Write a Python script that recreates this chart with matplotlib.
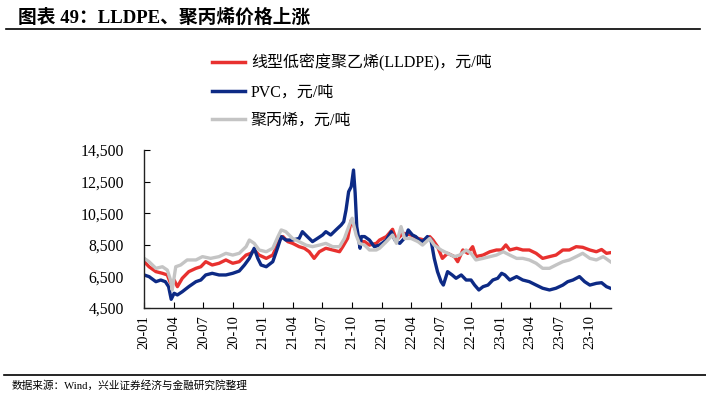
import pandas as pd
import matplotlib
matplotlib.use('Agg')
import matplotlib.pyplot as plt
import matplotlib.dates as mdates
from matplotlib.lines import Line2D
from matplotlib.ticker import FuncFormatter

plt.rcParams['font.family'] = ['Liberation Serif', 'Noto Sans CJK SC']

# LLDPE, yuan/ton
lldpe_dates = ['2020-01-01', '2020-01-16', '2020-02-06', '2020-02-26', '2020-03-12', '2020-03-22',
               '2020-04-02', '2020-04-12', '2020-04-27', '2020-05-17', '2020-06-08', '2020-06-23',
               '2020-07-08', '2020-07-28', '2020-08-18', '2020-09-08', '2020-09-29', '2020-10-19',
               '2020-11-09', '2020-11-24', '2020-12-04', '2020-12-19', '2021-01-10', '2021-01-30',
               '2021-02-20', '2021-03-02', '2021-03-17', '2021-04-01', '2021-04-21', '2021-05-07',
               '2021-05-22', '2021-06-06', '2021-06-22', '2021-07-12', '2021-08-02', '2021-08-23',
               '2021-09-02', '2021-09-17', '2021-09-28', '2021-10-03', '2021-10-13', '2021-10-23',
               '2021-11-08', '2021-11-23', '2021-12-14', '2021-12-24', '2022-01-14', '2022-02-02',
               '2022-02-14', '2022-03-06', '2022-03-31', '2022-04-21', '2022-05-11', '2022-05-27',
               '2022-06-06', '2022-06-20', '2022-07-05', '2022-07-21', '2022-08-11', '2022-08-21',
               '2022-09-06', '2022-09-21', '2022-10-06', '2022-10-16', '2022-11-07', '2022-11-28',
               '2022-12-18', '2023-01-03', '2023-01-16', '2023-01-28', '2023-02-18', '2023-03-09',
               '2023-03-29', '2023-04-19', '2023-05-09', '2023-05-30', '2023-06-19', '2023-07-10',
               '2023-07-30', '2023-08-20', '2023-09-09', '2023-10-01', '2023-10-21', '2023-11-06',
               '2023-11-21', '2023-12-03']
lldpe = [7430, 7110, 6800, 6695, 6590, 6060,
         6270, 5850, 6380, 6800, 7010, 7110,
         7430, 7220, 7330, 7540, 7330, 7430,
         7850, 7960, 8170, 7850, 7640, 7850,
         8800, 9020, 8700, 8590, 8380, 8280,
         8060, 7640, 8060, 8280, 8170, 8060,
         8380, 8910, 10050, 9860, 9330, 8700,
         8700, 8480, 8590, 8800, 9020, 9480,
         8800, 9230, 9120, 8900, 8800, 9020,
         8800, 8380, 7640, 7960, 7750, 7430,
         8170, 7960, 8380, 7750, 7850, 8060,
         8170, 8170, 8490, 8170, 8280, 8170,
         8170, 7960, 7640, 7750, 7850, 8170,
         8170, 8380, 8340, 8170, 8060, 8200,
         7960, 8000]

# PVC, yuan/ton
pvc_dates = ['2020-01-01', '2020-01-16', '2020-02-06', '2020-02-21', '2020-03-06', '2020-03-16',
             '2020-03-24', '2020-04-02', '2020-04-12', '2020-04-27', '2020-05-17', '2020-06-08',
             '2020-06-23', '2020-07-08', '2020-07-28', '2020-08-18', '2020-09-08', '2020-09-29',
             '2020-10-19', '2020-11-04', '2020-11-19', '2020-12-04', '2020-12-15', '2020-12-25',
             '2021-01-10', '2021-01-30', '2021-02-15', '2021-02-25', '2021-03-11', '2021-04-01',
             '2021-04-21', '2021-05-01', '2021-05-16', '2021-06-01', '2021-06-16', '2021-07-02',
             '2021-07-12', '2021-07-27', '2021-08-12', '2021-08-28', '2021-09-05', '2021-09-12',
             '2021-09-20', '2021-09-28', '2021-10-05', '2021-10-10', '2021-10-15', '2021-10-20',
             '2021-10-25', '2021-10-29', '2021-11-08', '2021-11-23', '2021-12-08', '2021-12-24',
             '2022-01-14', '2022-01-29', '2022-02-09', '2022-02-24', '2022-03-15', '2022-03-22',
             '2022-04-04', '2022-04-14', '2022-04-25', '2022-05-05', '2022-05-20', '2022-05-31',
             '2022-06-10', '2022-06-20', '2022-07-01', '2022-07-08', '2022-07-21', '2022-08-04',
             '2022-08-16', '2022-09-01', '2022-09-16', '2022-10-01', '2022-10-12', '2022-10-25',
             '2022-11-07', '2022-11-22', '2022-12-07', '2022-12-22', '2023-01-03', '2023-01-13',
             '2023-01-28', '2023-02-18', '2023-03-09', '2023-03-29', '2023-04-19', '2023-05-09',
             '2023-05-30', '2023-06-19', '2023-07-10', '2023-07-25', '2023-08-10', '2023-08-30',
             '2023-09-15', '2023-10-01', '2023-10-21', '2023-11-06', '2023-11-21', '2023-12-03']
pvc = [6590, 6485, 6165, 6270, 6165, 5850,
       5050, 5430, 5325, 5530, 5850, 6165,
       6270, 6590, 6695, 6590, 6590, 6695,
       6840, 7220, 7640, 8280, 7640, 7220,
       7110, 7430, 8380, 9020, 8800, 8800,
       8900, 9330, 9020, 8700, 8900, 9120,
       9330, 9120, 9440, 9750, 9960, 10700,
       11860, 12180, 13230, 11780, 9650, 9020,
       8280, 9020, 9020, 8800, 8380, 8480,
       8800, 9330, 8800, 8590, 9020, 9440,
       9120, 9020, 8800, 8700, 9020, 8800,
       7640, 6800, 6165, 5950, 6800, 6590,
       6380, 6590, 6270, 6270, 5950, 5640,
       5850, 5950, 6270, 6380, 6695, 6590,
       6270, 6485, 6270, 6165, 5950, 5750,
       5640, 5750, 5950, 6165, 6270, 6485,
       6165, 5950, 6060, 6100, 5850, 5750]

# polypropylene, yuan/ton
pp_dates = ['2020-01-01', '2020-01-16', '2020-02-06', '2020-02-26', '2020-03-12', '2020-03-22',
            '2020-03-27', '2020-04-07', '2020-04-22', '2020-05-12', '2020-06-08', '2020-06-28',
            '2020-07-23', '2020-08-18', '2020-09-08', '2020-09-29', '2020-10-19', '2020-11-09',
            '2020-11-19', '2020-12-04', '2020-12-19', '2021-01-10', '2021-01-30', '2021-02-15',
            '2021-02-25', '2021-03-11', '2021-04-01', '2021-04-21', '2021-05-12', '2021-06-01',
            '2021-06-22', '2021-07-12', '2021-08-02', '2021-08-23', '2021-09-07', '2021-09-22',
            '2021-10-01', '2021-10-13', '2021-10-23', '2021-11-08', '2021-11-23', '2021-12-14',
            '2021-12-24', '2022-01-14', '2022-02-02', '2022-02-14', '2022-02-28', '2022-03-11',
            '2022-03-31', '2022-04-21', '2022-05-05', '2022-05-27', '2022-06-10', '2022-07-01',
            '2022-07-21', '2022-08-11', '2022-08-27', '2022-09-16', '2022-10-01', '2022-10-16',
            '2022-11-07', '2022-11-28', '2022-12-18', '2023-01-08', '2023-01-28', '2023-02-18',
            '2023-03-09', '2023-03-29', '2023-04-19', '2023-05-09', '2023-05-30', '2023-06-19',
            '2023-07-10', '2023-07-30', '2023-08-20', '2023-09-09', '2023-10-01', '2023-10-21',
            '2023-11-11', '2023-12-03']
pp = [7640, 7430, 7010, 7110, 6900, 6270,
      5640, 7110, 7220, 7540, 7540, 7750,
      7640, 7750, 7960, 7850, 7960, 8380,
      8800, 8590, 8170, 8060, 8280, 9020,
      9440, 9330, 8900, 8700, 8480, 8380,
      8480, 8590, 8380, 8380, 8900, 9750,
      10180, 9120, 8590, 8480, 8170, 8170,
      8280, 8700, 9120, 8590, 9650, 8900,
      8900, 8700, 8480, 8900, 8480, 8170,
      7960, 7750, 7850, 8170, 7960, 7540,
      7640, 7750, 7850, 8060, 7850, 7640,
      7640, 7540, 7330, 7010, 7010, 7220,
      7430, 7540, 7750, 7960, 7640, 7540,
      7750, 7430]

labels = ['线型低密度聚乙烯(LLDPE)，元/吨', 'PVC，元/吨', '聚丙烯，元/吨']
colors = ['#E8312F', '#0D2A85', '#C4C4C4']

fig = plt.figure(figsize=(7.06, 3.95), dpi=100)
ax = fig.add_axes([0.2033, 0.2203, 0.6617, 0.4])

ax.plot(pd.to_datetime(lldpe_dates), lldpe, color=colors[0], lw=2.4, label=labels[0])
ax.plot(pd.to_datetime(pvc_dates), pvc, color=colors[1], lw=2.4, label=labels[1])
ax.plot(pd.to_datetime(pp_dates), pp, color=colors[2], lw=2.4, label=labels[2])

ax.set_ylim(4500, 14500)
ax.set_yticks(range(4500, 14501, 2000))
ax.yaxis.set_major_formatter(FuncFormatter(lambda v, p: '{:,.0f}'.format(v)))
ax.set_xlim(pd.Timestamp('2019-12-30'), pd.Timestamp('2023-12-04'))
ax.xaxis.set_major_locator(mdates.MonthLocator(bymonth=[1, 4, 7, 10]))
ax.xaxis.set_major_formatter(mdates.DateFormatter('%y-%m'))
for lab in ax.get_xticklabels():
    lab.set_rotation(90)
ax.tick_params(axis='x', direction='in', length=4, labelsize=10.5, pad=5)
ax.tick_params(axis='y', direction='in', length=4, labelsize=11.3, pad=14)
for s in ['top', 'right']:
    ax.spines[s].set_visible(False)
for s in ['left', 'bottom']:
    ax.spines[s].set_linewidth(1.0)
    ax.spines[s].set_color('#222222')

handles = [Line2D([], [], color=c, lw=2.5) for c in colors]
fig.legend(handles, labels, loc='upper left', bbox_to_anchor=(0.300, 0.862),
           frameon=False, fontsize=11.5, handlelength=2.1, handletextpad=0.35,
           labelspacing=0.78, borderpad=0, borderaxespad=0)

fig.text(0.025, 0.955, '图表 49：LLDPE、聚丙烯价格上涨', fontsize=13.5, fontweight='bold',
         va='center', ha='left')
fig.add_artist(Line2D([0.008, 0.992], [0.926, 0.926], color='black', lw=1.2))
fig.add_artist(Line2D([0.006, 1.0], [0.051, 0.051], color='black', lw=1.2))
fig.text(0.017, 0.025, '数据来源：Wind，兴业证券经济与金融研究院整理', fontsize=7.7,
         va='center', ha='left')

fig.savefig('out.png', dpi=100)
